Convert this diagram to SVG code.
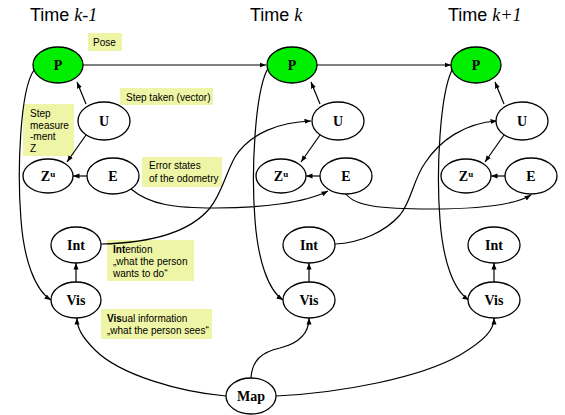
<svg xmlns="http://www.w3.org/2000/svg" width="565" height="415" viewBox="0 0 565 415">
<style>
.n ellipse{fill:#fff;stroke:#000;stroke-width:1.3}
.n.g ellipse{fill:#00ee00}
.n text{font-family:'Liberation Serif','Times New Roman','DejaVu Serif',serif;font-weight:bold;font-size:14px;text-anchor:middle}
.c path{fill:none;stroke:#000;stroke-width:1.2;marker-end:url(#ah)}
.lb rect{fill:#eef5a6}
.lb text{font-family:'Liberation Sans',Arial,sans-serif;font-size:10px;fill:#000}
.t{font-family:'Liberation Sans',Arial,sans-serif;font-size:18px}
.ti{font-family:'Liberation Serif','Times New Roman','DejaVu Serif',serif;font-style:italic}
</style>
<defs>
<marker id="ah" markerUnits="userSpaceOnUse" markerWidth="7" markerHeight="6" refX="6.5" refY="3" orient="auto"><path d="M0,0.5 L6.5,3 L0,5.5 z" fill="#000"/></marker>
</defs>
<rect width="565" height="415" fill="#fff"/>
<g id="titles">
<text class="t" x="30" y="21">Time <tspan class="ti">k-1</tspan></text>
<text class="t" x="250" y="21">Time <tspan class="ti">k</tspan></text>
<text class="t" x="448" y="21">Time <tspan class="ti">k+1</tspan></text>
</g>
<g id="labels" class="lb">
<g id="lbl-pose"><rect x="88" y="33" width="34" height="18"/><text x="93" y="46">Pose</text></g>
<g id="lbl-step"><rect x="120" y="88" width="93" height="17"/><text x="126" y="101">Step taken (vector)</text></g>
<g id="lbl-meas"><rect x="23" y="104" width="51" height="52"/><text x="30" y="117">Step</text><text x="30" y="128.7">measure</text><text x="30" y="140.3">-ment</text><text x="30" y="152">Z</text></g>
<g id="lbl-err"><rect x="142" y="157" width="80" height="30"/><text x="149" y="169">Error states</text><text x="149" y="181.5">of the odometry</text></g>
<g id="lbl-int"><rect x="107" y="240" width="87" height="41"/><text x="113" y="253"><tspan font-weight="bold">Int</tspan>ention</text><text x="113" y="265">„what the person</text><text x="113" y="277">wants to do“</text></g>
<g id="lbl-vis"><rect x="101" y="309" width="111" height="30"/><text x="107" y="322"><tspan font-weight="bold">Vis</tspan>ual information</text><text x="107" y="333.5">„what the person sees“</text></g>
</g>
<g id="connectors" class="c">
<path d="M83,65 L266,65"/>
<path d="M317,65 L451,65"/>
<path d="M86,104 L77,82"/>
<path d="M320,104 L311,82"/>
<path d="M504,104 L495,82"/>
<path d="M86,135 L67,162"/>
<path d="M320,135 L301,162"/>
<path d="M504,135 L485,162"/>
<path d="M87,176 L73,176"/>
<path d="M320,176 L306,176"/>
<path d="M505,176 L491,176"/>
<path d="M76,282 L76,263"/>
<path d="M309,282 L309,263"/>
<path d="M494,282 L494,263"/>
<path d="M34,70 C20,90 17,170 21,220 C24,260 35,290 51,300"/>
<path d="M267,70 C255,95 251,170 255,220 C258,260 268,290 283,300"/>
<path d="M452,70 C440,95 436,170 440,220 C443,260 453,290 469,300"/>
<path d="M101,244 C150,243 190,232 210,208 C222,193 225,175 235,157 C250,133 280,122 311,121"/>
<path d="M335,244 C360,243 385,232 400,215 C412,200 413,180 425,163 C440,140 465,123 497,121"/>
<path d="M131,189 C150,205 175,208 215,208 C260,208 305,203 328,191"/>
<path d="M346,194 C355,206 380,209 430,209 C480,209 515,205 531,195"/>
<path d="M226,396 C180,392 120,375 95,350 C82,337 77,328 77,318"/>
<path d="M251,378 C252,360 262,352 280,348 C300,343 309,333 309,318"/>
<path d="M276,396 C340,393 420,378 460,355 C485,340 494,330 494,318"/>
</g>
<g id="P1" class="n g"><ellipse cx="58" cy="65" rx="25" ry="18"/><text x="58" y="70">P</text></g>
<g id="U1" class="n"><ellipse cx="104" cy="121" rx="26" ry="19"/><text x="104" y="126">U</text></g>
<g id="Z1" class="n"><ellipse cx="48" cy="176" rx="25" ry="17"/><text x="48" y="181">Z<tspan font-size="9" dy="-4">u</tspan></text></g>
<g id="E1" class="n"><ellipse cx="113" cy="176" rx="26" ry="18"/><text x="113" y="181">E</text></g>
<g id="I1" class="n"><ellipse cx="76" cy="245" rx="25" ry="18"/><text x="76" y="250">Int</text></g>
<g id="V1" class="n"><ellipse cx="76" cy="300" rx="25" ry="18"/><text x="76" y="305">Vis</text></g>
<g id="P2" class="n g"><ellipse cx="292" cy="65" rx="25" ry="18"/><text x="292" y="70">P</text></g>
<g id="U2" class="n"><ellipse cx="338" cy="121" rx="26" ry="19"/><text x="338" y="126">U</text></g>
<g id="Z2" class="n"><ellipse cx="281" cy="176" rx="25" ry="17"/><text x="281" y="181">Z<tspan font-size="9" dy="-4">u</tspan></text></g>
<g id="E2" class="n"><ellipse cx="346" cy="176" rx="26" ry="18"/><text x="346" y="181">E</text></g>
<g id="I2" class="n"><ellipse cx="309" cy="245" rx="26" ry="18"/><text x="309" y="250">Int</text></g>
<g id="V2" class="n"><ellipse cx="309" cy="300" rx="26" ry="18"/><text x="309" y="305">Vis</text></g>
<g id="P3" class="n g"><ellipse cx="476" cy="65" rx="25" ry="18"/><text x="476" y="70">P</text></g>
<g id="U3" class="n"><ellipse cx="522" cy="121" rx="26" ry="19"/><text x="522" y="126">U</text></g>
<g id="Z3" class="n"><ellipse cx="466" cy="176" rx="25" ry="17"/><text x="466" y="181">Z<tspan font-size="9" dy="-4">u</tspan></text></g>
<g id="E3" class="n"><ellipse cx="531" cy="176" rx="26" ry="18"/><text x="531" y="181">E</text></g>
<g id="I3" class="n"><ellipse cx="494" cy="245" rx="26" ry="18"/><text x="494" y="250">Int</text></g>
<g id="V3" class="n"><ellipse cx="494" cy="300" rx="26" ry="18"/><text x="494" y="305">Vis</text></g>
<g id="Map" class="n"><ellipse cx="251" cy="396" rx="25" ry="18"/><text x="251" y="401">Map</text></g>
</svg>
